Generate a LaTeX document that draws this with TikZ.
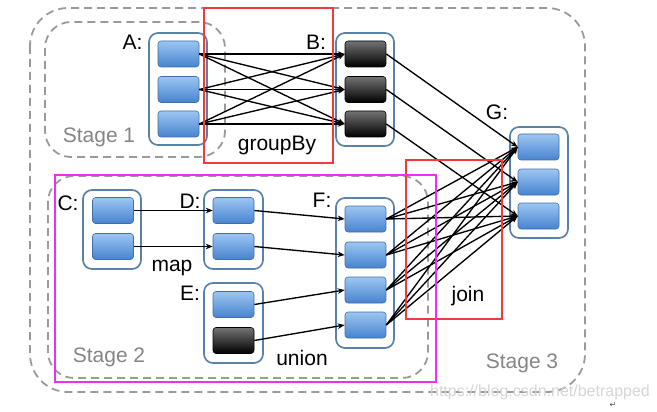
\documentclass[tikz,border=0pt]{standalone}
\usepackage{fontspec}
\setmainfont{Liberation Sans}
\newfontfamily\symfont{DejaVu Sans}
\usetikzlibrary{arrows.meta}
\definecolor{bluetop}{HTML}{9CC6F2}
\definecolor{bluebot}{HTML}{4783CF}
\definecolor{boxedge}{HTML}{3F6FA6}
\definecolor{contedge}{HTML}{5A82A8}
\definecolor{stagegray}{HTML}{9A9A9A}
\definecolor{stagetext}{HTML}{858585}
\definecolor{hired}{HTML}{F23A3A}
\definecolor{himag}{HTML}{F02EF0}
\definecolor{wmark}{HTML}{D6D6D6}
\tikzset{
  blk/.style={draw=boxedge, line width=0.6pt, rounded corners=3pt, minimum width=41pt, minimum height=26pt, inner sep=0pt, top color=bluetop, bottom color=bluebot},
  darkblk/.style={draw=black, line width=0.6pt, rounded corners=3pt, minimum width=41pt, minimum height=26pt, inner sep=0pt, top color=black!55, bottom color=black},
  cont/.style={draw=contedge, line width=1.7pt, rounded corners=9pt, fill=white, inner sep=0pt},
  stagebox/.style={draw=stagegray, line width=1.8pt, dash pattern=on 8pt off 5pt},
  arr/.style={-{Stealth[length=7pt,width=5.5pt]}, line width=1.35pt},
  lbl/.style={font=\fontsize{21}{24}\selectfont, inner sep=0pt},
  stlbl/.style={font=\fontsize{21}{24}\selectfont, text=stagetext, inner sep=0pt},
  hibox/.style={line width=2.6pt}
}
\begin{document}
\begin{tikzpicture}[x=1pt,y=-1pt]
\useasboundingbox (0,0) rectangle (657,412);
% stages
\draw[stagebox, rounded corners=38pt] (30,8) rectangle (585,392);
\draw[stagebox, rounded corners=26pt] (45,22) rectangle (225,157);
\draw[stagebox, rounded corners=26pt] (48,176) rectangle (428,378);
% containers
\node[cont, minimum width=58pt, minimum height=112pt] (Ac) at (178,89) {};
\node[cont, minimum width=58pt, minimum height=113pt] (Bc) at (365,89.5) {};
\node[cont, minimum width=58pt, minimum height=111pt] (Gc) at (539,182.5) {};
\node[cont, minimum width=58pt, minimum height=79pt] (Cc) at (112,229.5) {};
\node[cont, minimum width=59pt, minimum height=79pt] (Dc) at (233.5,229.5) {};
\node[cont, minimum width=59pt, minimum height=80pt] (Ec) at (233.5,323) {};
\node[cont, minimum width=58pt, minimum height=150pt] (Fc) at (365,273) {};
% boxes
\node[blk] (A1) at (178.5,54) {};
\node[blk] (A2) at (178.5,89.5) {};
\node[blk] (A3) at (178.5,124) {};
\node[darkblk] (B1) at (365.5,54) {};
\node[darkblk] (B2) at (365.5,89.5) {};
\node[darkblk] (B3) at (365.5,124) {};
\node[blk] (G1) at (538.5,147) {};
\node[blk] (G2) at (538.5,182) {};
\node[blk] (G3) at (538.5,216) {};
\node[blk] (C1) at (113,210.5) {};
\node[blk] (C2) at (113,246.5) {};
\node[blk] (D1) at (233.5,210.5) {};
\node[blk] (D2) at (233.5,246.5) {};
\node[blk] (E1) at (233.5,304.5) {};
\node[darkblk] (E2) at (233.5,340.5) {};
\node[blk] (F1) at (365.5,219) {};
\node[blk] (F2) at (365.5,255) {};
\node[blk] (F3) at (365.5,290) {};
\node[blk] (F4) at (365.5,325) {};
% connectors
\foreach \i in {1,2,3}{\foreach \j in {1,2,3}{\draw[arr] (A\i.east) -- (B\j.west);}}
\foreach \i in {1,2,3}{\draw[arr] (B\i.east) -- (G\i.west);}
\foreach \i in {1,2,3,4}{\foreach \j in {1,2,3}{\draw[arr] (F\i.east) -- (G\j.west);}}
\draw[arr] (C1.east) -- (D1.west);
\draw[arr] (C2.east) -- (D2.west);
\draw[arr] (D1.east) -- (F1.west);
\draw[arr] (D2.east) -- (F2.west);
\draw[arr] (E1.east) -- (F3.west);
\draw[arr] (E2.east) -- (F4.west);
% labels
\node[lbl] (lA) at (132.5,42) {A:};
\node[lbl] (lB) at (316,42) {B:};
\node[lbl] (lG) at (497,112) {G:};
\node[lbl] (lC) at (68,203) {C:};
\node[lbl] (lD) at (190,201) {D:};
\node[lbl] (lE) at (190,293) {E:};
\node[lbl] (lF) at (322,200) {F:};
\node[lbl] (lgroup) at (277,145) {groupBy};
\node[lbl] (lmap) at (172,268) {map};
\node[lbl] (lunion) at (302,358) {union};
\node[lbl] (ljoin) at (468,296) {join};
\node[stlbl] (s1) at (99,137) {Stage 1};
\node[stlbl] (s2) at (109,357) {Stage 2};
\node[stlbl] (s3) at (522,363) {Stage 3};
% highlight boxes
\draw[hibox, draw=hired] (204,8) rectangle (333,163);
\draw[hibox, draw=hired] (406,160) rectangle (502,319);
\draw[hibox, draw=himag] (55,175) rectangle (436,382);
% watermark
\node[font=\fontsize{16}{18}\selectfont, text=wmark, inner sep=0pt] (wm) at (540,392) {https://blog.csdn.net/betrapped};
\node[font=\symfont\fontsize{8}{9}\selectfont, text=black!70, inner sep=0pt] (ret) at (613,405) {↵};
\end{tikzpicture}
\end{document}
